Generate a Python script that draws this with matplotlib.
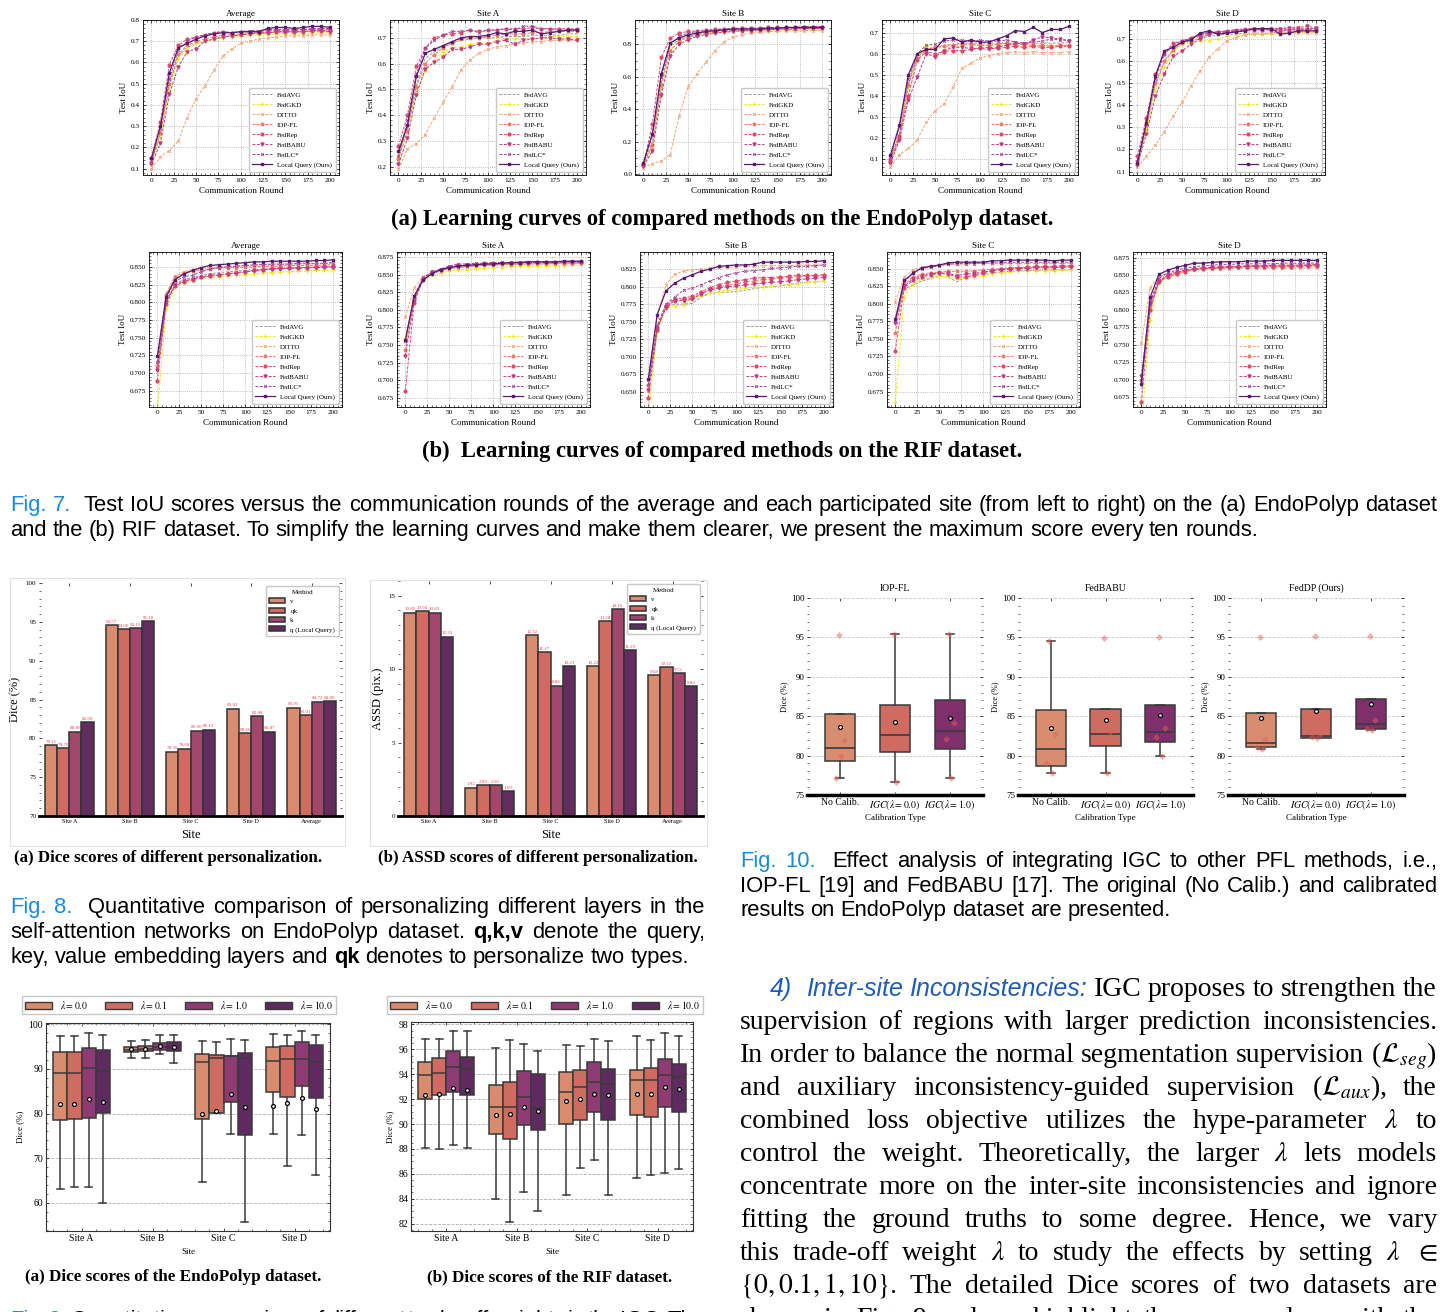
import numpy as np
import matplotlib
matplotlib.use('Agg')
import matplotlib.pyplot as plt
from matplotlib.patches import Patch, Rectangle
from matplotlib.ticker import MultipleLocator

plt.rcParams['font.family'] = ['Liberation Serif', 'DejaVu Serif']
plt.rcParams['mathtext.fontset'] = 'stix'

W, H = 1445, 1312

# ---------------- Fig. 7 learning curves ----------------
methods = ['FedAVG', 'FedGKD', 'DITTO', 'IOP-FL', 'FedRep', 'FedBABU', 'FedLC*', 'Local Query (Ours)']
rounds = list(range(0, 201, 10))

# each: FedAVG, FedGKD, DITTO, IOP-FL, FedRep, FedBABU, FedLC*, Local Query
endo_average = [
    [0.13, 0.26, 0.49, 0.63, 0.67, 0.69, 0.70, 0.71, 0.72, 0.725, 0.73, 0.735, 0.735, 0.74, 0.74, 0.74, 0.74, 0.745, 0.745, 0.745, 0.745],
    [0.12, 0.25, 0.47, 0.62, 0.665, 0.69, 0.70, 0.71, 0.715, 0.72, 0.725, 0.73, 0.73, 0.735, 0.735, 0.735, 0.735, 0.735, 0.74, 0.74, 0.74],
    [0.10, 0.155, 0.185, 0.23, 0.34, 0.43, 0.49, 0.565, 0.63, 0.665, 0.69, 0.70, 0.71, 0.715, 0.72, 0.725, 0.725, 0.725, 0.73, 0.73, 0.73],
    [0.13, 0.27, 0.50, 0.64, 0.68, 0.70, 0.71, 0.72, 0.73, 0.73, 0.735, 0.74, 0.74, 0.74, 0.745, 0.745, 0.745, 0.745, 0.75, 0.75, 0.75],
    [0.15, 0.32, 0.59, 0.68, 0.71, 0.72, 0.73, 0.74, 0.745, 0.74, 0.745, 0.745, 0.745, 0.75, 0.75, 0.75, 0.75, 0.755, 0.755, 0.755, 0.755],
    [0.12, 0.22, 0.45, 0.58, 0.65, 0.665, 0.70, 0.71, 0.72, 0.725, 0.73, 0.735, 0.74, 0.74, 0.745, 0.745, 0.745, 0.745, 0.75, 0.75, 0.745],
    [0.14, 0.29, 0.52, 0.66, 0.70, 0.72, 0.73, 0.74, 0.745, 0.74, 0.745, 0.75, 0.75, 0.755, 0.755, 0.755, 0.755, 0.755, 0.76, 0.76, 0.76],
    [0.15, 0.30, 0.55, 0.67, 0.69, 0.71, 0.725, 0.735, 0.74, 0.74, 0.745, 0.745, 0.745, 0.76, 0.765, 0.765, 0.76, 0.765, 0.77, 0.77, 0.765],
]
endo_site_a = [
    [0.25, 0.35, 0.52, 0.62, 0.645, 0.665, 0.68, 0.69, 0.695, 0.70, 0.70, 0.70, 0.705, 0.705, 0.705, 0.71, 0.71, 0.71, 0.71, 0.715, 0.715],
    [0.24, 0.34, 0.49, 0.57, 0.61, 0.645, 0.66, 0.665, 0.675, 0.68, 0.68, 0.69, 0.695, 0.695, 0.695, 0.695, 0.70, 0.705, 0.705, 0.705, 0.705],
    [0.19, 0.27, 0.29, 0.325, 0.39, 0.45, 0.51, 0.575, 0.615, 0.64, 0.655, 0.665, 0.67, 0.675, 0.68, 0.685, 0.685, 0.69, 0.69, 0.69, 0.69],
    [0.23, 0.34, 0.51, 0.60, 0.635, 0.66, 0.68, 0.695, 0.70, 0.70, 0.705, 0.71, 0.715, 0.715, 0.715, 0.72, 0.72, 0.725, 0.725, 0.725, 0.725],
    [0.28, 0.40, 0.59, 0.66, 0.70, 0.71, 0.715, 0.72, 0.73, 0.725, 0.73, 0.73, 0.735, 0.735, 0.735, 0.74, 0.735, 0.735, 0.735, 0.735, 0.735],
    [0.21, 0.31, 0.48, 0.58, 0.605, 0.625, 0.655, 0.655, 0.665, 0.675, 0.675, 0.685, 0.69, 0.675, 0.69, 0.695, 0.70, 0.70, 0.695, 0.695, 0.69],
    [0.24, 0.38, 0.56, 0.66, 0.69, 0.71, 0.725, 0.725, 0.73, 0.72, 0.73, 0.73, 0.735, 0.73, 0.745, 0.745, 0.735, 0.735, 0.73, 0.73, 0.73],
    [0.26, 0.36, 0.55, 0.64, 0.655, 0.67, 0.685, 0.70, 0.705, 0.705, 0.71, 0.72, 0.715, 0.725, 0.725, 0.73, 0.715, 0.72, 0.725, 0.73, 0.73],
]
endo_site_b = [
    [0.06, 0.20, 0.57, 0.79, 0.83, 0.85, 0.865, 0.875, 0.88, 0.885, 0.885, 0.89, 0.89, 0.895, 0.895, 0.895, 0.90, 0.90, 0.90, 0.90, 0.90],
    [0.05, 0.16, 0.53, 0.77, 0.82, 0.845, 0.855, 0.865, 0.87, 0.875, 0.88, 0.88, 0.885, 0.885, 0.885, 0.89, 0.89, 0.89, 0.89, 0.895, 0.895],
    [0.04, 0.065, 0.08, 0.12, 0.36, 0.54, 0.62, 0.69, 0.76, 0.815, 0.845, 0.86, 0.87, 0.875, 0.88, 0.88, 0.885, 0.885, 0.885, 0.885, 0.885],
    [0.05, 0.18, 0.55, 0.76, 0.82, 0.845, 0.86, 0.87, 0.875, 0.88, 0.885, 0.885, 0.89, 0.89, 0.895, 0.895, 0.895, 0.90, 0.90, 0.90, 0.90],
    [0.06, 0.31, 0.72, 0.84, 0.87, 0.88, 0.885, 0.89, 0.895, 0.895, 0.90, 0.90, 0.90, 0.90, 0.905, 0.905, 0.905, 0.905, 0.91, 0.91, 0.91],
    [0.05, 0.14, 0.49, 0.73, 0.80, 0.83, 0.85, 0.86, 0.87, 0.875, 0.88, 0.885, 0.885, 0.89, 0.89, 0.895, 0.895, 0.895, 0.90, 0.90, 0.90],
    [0.06, 0.24, 0.60, 0.80, 0.85, 0.87, 0.88, 0.885, 0.89, 0.895, 0.895, 0.90, 0.90, 0.90, 0.905, 0.905, 0.905, 0.905, 0.91, 0.91, 0.91],
    [0.07, 0.25, 0.62, 0.81, 0.84, 0.86, 0.87, 0.88, 0.885, 0.89, 0.895, 0.895, 0.895, 0.895, 0.90, 0.90, 0.905, 0.905, 0.905, 0.905, 0.905],
]
endo_site_c = [
    [0.10, 0.22, 0.46, 0.59, 0.62, 0.63, 0.64, 0.645, 0.65, 0.65, 0.65, 0.65, 0.65, 0.65, 0.65, 0.65, 0.65, 0.65, 0.65, 0.65, 0.655],
    [0.09, 0.21, 0.44, 0.58, 0.64, 0.625, 0.63, 0.63, 0.635, 0.64, 0.64, 0.64, 0.64, 0.64, 0.64, 0.64, 0.64, 0.64, 0.64, 0.64, 0.64],
    [0.06, 0.12, 0.15, 0.19, 0.275, 0.33, 0.36, 0.44, 0.53, 0.555, 0.58, 0.59, 0.60, 0.605, 0.61, 0.605, 0.61, 0.605, 0.605, 0.605, 0.61],
    [0.09, 0.20, 0.45, 0.58, 0.62, 0.63, 0.635, 0.64, 0.645, 0.645, 0.64, 0.64, 0.645, 0.65, 0.64, 0.645, 0.64, 0.64, 0.635, 0.64, 0.64],
    [0.10, 0.21, 0.40, 0.57, 0.61, 0.60, 0.61, 0.615, 0.615, 0.62, 0.625, 0.63, 0.625, 0.63, 0.635, 0.63, 0.635, 0.63, 0.63, 0.635, 0.635],
    [0.08, 0.19, 0.38, 0.49, 0.60, 0.585, 0.615, 0.63, 0.63, 0.625, 0.625, 0.62, 0.63, 0.64, 0.65, 0.645, 0.665, 0.68, 0.675, 0.67, 0.66],
    [0.11, 0.25, 0.48, 0.60, 0.64, 0.645, 0.66, 0.665, 0.665, 0.655, 0.665, 0.66, 0.66, 0.665, 0.655, 0.65, 0.655, 0.66, 0.67, 0.665, 0.665],
    [0.12, 0.26, 0.50, 0.60, 0.62, 0.62, 0.67, 0.675, 0.655, 0.665, 0.655, 0.655, 0.67, 0.685, 0.71, 0.705, 0.725, 0.70, 0.715, 0.715, 0.73],
]
endo_site_d = [
    [0.14, 0.30, 0.49, 0.59, 0.65, 0.68, 0.69, 0.70, 0.71, 0.715, 0.72, 0.72, 0.725, 0.725, 0.725, 0.725, 0.73, 0.73, 0.73, 0.73, 0.73],
    [0.13, 0.29, 0.47, 0.57, 0.64, 0.675, 0.685, 0.69, 0.69, 0.70, 0.71, 0.715, 0.72, 0.72, 0.72, 0.72, 0.725, 0.725, 0.73, 0.73, 0.73],
    [0.12, 0.17, 0.22, 0.28, 0.35, 0.415, 0.485, 0.555, 0.615, 0.655, 0.69, 0.705, 0.715, 0.72, 0.72, 0.725, 0.725, 0.725, 0.725, 0.725, 0.725],
    [0.15, 0.31, 0.50, 0.60, 0.65, 0.68, 0.70, 0.71, 0.72, 0.73, 0.735, 0.74, 0.745, 0.745, 0.745, 0.745, 0.745, 0.745, 0.745, 0.745, 0.745],
    [0.17, 0.34, 0.54, 0.63, 0.68, 0.69, 0.705, 0.715, 0.725, 0.73, 0.73, 0.735, 0.74, 0.74, 0.74, 0.74, 0.735, 0.74, 0.74, 0.74, 0.74],
    [0.13, 0.27, 0.44, 0.54, 0.62, 0.645, 0.675, 0.70, 0.72, 0.725, 0.73, 0.735, 0.74, 0.745, 0.745, 0.745, 0.745, 0.75, 0.75, 0.755, 0.75],
    [0.15, 0.33, 0.52, 0.63, 0.67, 0.69, 0.70, 0.72, 0.73, 0.73, 0.735, 0.74, 0.74, 0.74, 0.74, 0.74, 0.74, 0.74, 0.74, 0.745, 0.745],
    [0.14, 0.32, 0.53, 0.645, 0.66, 0.685, 0.695, 0.725, 0.735, 0.72, 0.725, 0.73, 0.735, 0.745, 0.745, 0.745, 0.72, 0.725, 0.735, 0.735, 0.735],
]
rif_average = [
    [0.70, 0.80, 0.826, 0.832, 0.835, 0.838, 0.840, 0.842, 0.843, 0.844, 0.845, 0.846, 0.847, 0.847, 0.848, 0.848, 0.849, 0.849, 0.849, 0.850, 0.850],
    [0.645, 0.79, 0.822, 0.828, 0.831, 0.834, 0.835, 0.836, 0.837, 0.838, 0.839, 0.840, 0.841, 0.842, 0.843, 0.843, 0.844, 0.844, 0.845, 0.845, 0.846],
    [0.715, 0.813, 0.837, 0.843, 0.846, 0.848, 0.849, 0.850, 0.851, 0.851, 0.852, 0.852, 0.853, 0.853, 0.853, 0.854, 0.854, 0.854, 0.854, 0.855, 0.855],
    [0.71, 0.81, 0.835, 0.841, 0.844, 0.846, 0.847, 0.848, 0.849, 0.849, 0.850, 0.850, 0.851, 0.851, 0.851, 0.852, 0.852, 0.852, 0.852, 0.853, 0.853],
    [0.689, 0.798, 0.823, 0.829, 0.832, 0.835, 0.837, 0.838, 0.840, 0.841, 0.843, 0.845, 0.846, 0.847, 0.848, 0.848, 0.849, 0.849, 0.850, 0.850, 0.850],
    [0.704, 0.800, 0.824, 0.830, 0.833, 0.836, 0.838, 0.839, 0.840, 0.842, 0.843, 0.844, 0.846, 0.847, 0.847, 0.848, 0.848, 0.849, 0.849, 0.850, 0.850],
    [0.715, 0.805, 0.830, 0.836, 0.838, 0.843, 0.847, 0.849, 0.850, 0.851, 0.852, 0.853, 0.853, 0.854, 0.854, 0.854, 0.855, 0.855, 0.855, 0.855, 0.856],
    [0.724, 0.808, 0.832, 0.840, 0.845, 0.849, 0.852, 0.853, 0.854, 0.855, 0.856, 0.857, 0.857, 0.858, 0.858, 0.858, 0.858, 0.858, 0.859, 0.859, 0.860],
]
rif_site_a = [
    [0.757, 0.818, 0.843, 0.851, 0.855, 0.858, 0.860, 0.861, 0.862, 0.863, 0.863, 0.864, 0.864, 0.865, 0.865, 0.865, 0.865, 0.866, 0.866, 0.866, 0.866],
    [0.76, 0.815, 0.842, 0.849, 0.852, 0.855, 0.856, 0.857, 0.858, 0.859, 0.860, 0.860, 0.861, 0.862, 0.862, 0.862, 0.862, 0.862, 0.862, 0.863, 0.863],
    [0.79, 0.831, 0.847, 0.853, 0.856, 0.858, 0.860, 0.861, 0.862, 0.863, 0.863, 0.864, 0.864, 0.864, 0.865, 0.865, 0.865, 0.865, 0.865, 0.865, 0.866],
    [0.743, 0.815, 0.845, 0.853, 0.856, 0.859, 0.861, 0.862, 0.863, 0.864, 0.864, 0.865, 0.865, 0.866, 0.866, 0.866, 0.866, 0.866, 0.867, 0.867, 0.867],
    [0.685, 0.81, 0.845, 0.853, 0.857, 0.861, 0.863, 0.864, 0.865, 0.866, 0.866, 0.866, 0.867, 0.867, 0.867, 0.868, 0.868, 0.868, 0.868, 0.868, 0.868],
    [0.735, 0.812, 0.842, 0.853, 0.857, 0.860, 0.862, 0.863, 0.864, 0.865, 0.865, 0.866, 0.866, 0.867, 0.867, 0.867, 0.867, 0.867, 0.868, 0.868, 0.868],
    [0.755, 0.82, 0.845, 0.853, 0.858, 0.862, 0.865, 0.865, 0.866, 0.866, 0.867, 0.867, 0.867, 0.868, 0.868, 0.868, 0.868, 0.868, 0.868, 0.868, 0.868],
    [0.757, 0.819, 0.842, 0.851, 0.857, 0.860, 0.862, 0.863, 0.864, 0.865, 0.865, 0.866, 0.867, 0.867, 0.868, 0.868, 0.868, 0.868, 0.869, 0.869, 0.869],
]
rif_site_b = [
    [0.658, 0.74, 0.77, 0.775, 0.775, 0.776, 0.785, 0.790, 0.792, 0.792, 0.793, 0.795, 0.797, 0.799, 0.800, 0.801, 0.803, 0.805, 0.806, 0.807, 0.808],
    [0.62, 0.735, 0.770, 0.772, 0.774, 0.782, 0.787, 0.791, 0.793, 0.795, 0.796, 0.798, 0.799, 0.800, 0.801, 0.802, 0.803, 0.804, 0.806, 0.807, 0.808],
    [0.667, 0.757, 0.803, 0.818, 0.822, 0.824, 0.825, 0.826, 0.827, 0.828, 0.828, 0.829, 0.829, 0.830, 0.830, 0.830, 0.830, 0.831, 0.831, 0.831, 0.831],
    [0.66, 0.742, 0.772, 0.780, 0.782, 0.784, 0.790, 0.796, 0.800, 0.802, 0.804, 0.806, 0.808, 0.810, 0.811, 0.812, 0.813, 0.814, 0.815, 0.815, 0.816],
    [0.641, 0.738, 0.773, 0.782, 0.784, 0.786, 0.793, 0.798, 0.803, 0.806, 0.808, 0.810, 0.812, 0.813, 0.813, 0.814, 0.815, 0.816, 0.816, 0.816, 0.817],
    [0.652, 0.740, 0.770, 0.780, 0.780, 0.782, 0.790, 0.795, 0.798, 0.800, 0.801, 0.802, 0.804, 0.805, 0.806, 0.807, 0.808, 0.810, 0.811, 0.812, 0.813],
    [0.66, 0.745, 0.775, 0.785, 0.795, 0.798, 0.803, 0.808, 0.813, 0.817, 0.820, 0.822, 0.823, 0.824, 0.826, 0.827, 0.828, 0.829, 0.829, 0.830, 0.831],
    [0.668, 0.760, 0.794, 0.805, 0.812, 0.817, 0.822, 0.825, 0.829, 0.830, 0.831, 0.831, 0.832, 0.835, 0.835, 0.835, 0.835, 0.835, 0.836, 0.836, 0.837],
]
rif_site_c = [
    [0.77, 0.82, 0.827, 0.832, 0.836, 0.839, 0.838, 0.831, 0.838, 0.840, 0.842, 0.844, 0.845, 0.846, 0.847, 0.847, 0.847, 0.848, 0.848, 0.848, 0.848],
    [0.66, 0.81, 0.828, 0.835, 0.838, 0.840, 0.838, 0.836, 0.836, 0.838, 0.840, 0.842, 0.844, 0.845, 0.846, 0.846, 0.847, 0.847, 0.847, 0.848, 0.848],
    [0.803, 0.838, 0.848, 0.852, 0.854, 0.855, 0.856, 0.856, 0.856, 0.857, 0.857, 0.857, 0.857, 0.857, 0.857, 0.857, 0.857, 0.857, 0.857, 0.857, 0.857],
    [0.758, 0.827, 0.838, 0.842, 0.844, 0.845, 0.846, 0.846, 0.846, 0.847, 0.848, 0.849, 0.850, 0.851, 0.851, 0.851, 0.852, 0.852, 0.852, 0.852, 0.853],
    [0.733, 0.822, 0.833, 0.838, 0.841, 0.843, 0.842, 0.838, 0.838, 0.841, 0.844, 0.847, 0.849, 0.850, 0.851, 0.852, 0.853, 0.853, 0.853, 0.854, 0.854],
    [0.773, 0.825, 0.835, 0.840, 0.842, 0.844, 0.843, 0.840, 0.842, 0.843, 0.845, 0.847, 0.848, 0.849, 0.850, 0.850, 0.851, 0.851, 0.851, 0.852, 0.852],
    [0.776, 0.83, 0.845, 0.850, 0.852, 0.854, 0.856, 0.857, 0.857, 0.857, 0.858, 0.858, 0.858, 0.859, 0.859, 0.859, 0.859, 0.859, 0.859, 0.859, 0.859],
    [0.778, 0.833, 0.843, 0.851, 0.853, 0.855, 0.858, 0.859, 0.859, 0.859, 0.859, 0.861, 0.861, 0.862, 0.862, 0.862, 0.862, 0.862, 0.861, 0.862, 0.862],
]
rif_site_d = [
    [0.69, 0.80, 0.84, 0.848, 0.853, 0.856, 0.858, 0.859, 0.860, 0.861, 0.862, 0.862, 0.863, 0.863, 0.863, 0.864, 0.864, 0.864, 0.864, 0.865, 0.865],
    [0.63, 0.785, 0.838, 0.847, 0.852, 0.855, 0.857, 0.858, 0.859, 0.860, 0.861, 0.861, 0.862, 0.862, 0.863, 0.863, 0.863, 0.863, 0.864, 0.864, 0.864],
    [0.752, 0.832, 0.848, 0.852, 0.854, 0.856, 0.857, 0.858, 0.859, 0.859, 0.859, 0.860, 0.860, 0.860, 0.860, 0.860, 0.860, 0.860, 0.860, 0.860, 0.860],
    [0.70, 0.805, 0.843, 0.849, 0.853, 0.857, 0.859, 0.860, 0.861, 0.862, 0.862, 0.862, 0.863, 0.863, 0.863, 0.863, 0.863, 0.863, 0.863, 0.864, 0.864],
    [0.668, 0.80, 0.842, 0.847, 0.851, 0.855, 0.858, 0.859, 0.860, 0.860, 0.861, 0.861, 0.862, 0.862, 0.862, 0.862, 0.862, 0.862, 0.863, 0.863, 0.863],
    [0.705, 0.81, 0.84, 0.850, 0.854, 0.857, 0.859, 0.860, 0.861, 0.861, 0.862, 0.862, 0.863, 0.863, 0.863, 0.864, 0.864, 0.864, 0.864, 0.864, 0.865],
    [0.70, 0.81, 0.846, 0.853, 0.857, 0.860, 0.862, 0.863, 0.864, 0.865, 0.865, 0.866, 0.866, 0.866, 0.866, 0.866, 0.867, 0.867, 0.867, 0.867, 0.867],
    [0.694, 0.818, 0.851, 0.857, 0.861, 0.864, 0.867, 0.867, 0.868, 0.869, 0.869, 0.869, 0.870, 0.870, 0.870, 0.871, 0.871, 0.871, 0.871, 0.871, 0.871],
]

# ---------------- Fig. 8 personalization bars ----------------
bar_sites = ['Site A', 'Site B', 'Site C', 'Site D', 'Average']
bar_methods = ['v', 'qk', 'k', 'q (Local Query)']
dice_v = [79.11, 94.57, 78.30, 83.82, 83.95]
dice_qk = [78.70, 94.06, 78.68, 80.66, 83.01]
dice_k = [80.85, 94.15, 81.00, 82.88, 84.72]
dice_q = [82.09, 95.10, 81.13, 80.87, 84.80]
assd_v = [13.85, 1.92, 12.32, 10.22, 9.58]
assd_qk = [13.94, 2.09, 11.17, 13.28, 10.12]
assd_k = [13.83, 2.10, 8.86, 14.10, 9.72]
assd_q = [12.22, 1.69, 10.21, 11.29, 8.85]

# ---------------- Fig. 10 calibration (per-site Dice, Sites A-D) ----------------
calib_types = ['No Calib.', r'$IGC(\lambda=0.0)$', r'$IGC(\lambda=1.0)$']
iopfl_calib = [[77.2, 95.3, 80.0, 82.0], [81.8, 95.4, 76.6, 83.5], [82.1, 95.4, 77.2, 84.2]]
fedbabu_calib = [[79.0, 94.6, 77.8, 82.8], [82.4, 94.9, 77.8, 83.0], [82.4, 95.0, 79.9, 83.5]]
feddp_calib = [[81.1, 95.1, 80.9, 82.1], [82.3, 95.2, 82.2, 82.8], [83.4, 95.2, 83.3, 84.5]]

# ---------------- Fig. 9 lambda boxplots: (whislo, q1, med, q3, whishi, mean) ----------------
box_sites = ['Site A', 'Site B', 'Site C', 'Site D']
lambdas = [r'$\lambda = 0.0$', r'$\lambda = 0.1$', r'$\lambda = 1.0$', r'$\lambda = 10.0$']
endo_box = [
    [(63.0, 78.5, 89.1, 93.8, 97.3, 82.2), (63.5, 78.9, 89.1, 93.9, 97.4, 82.1), (63.6, 79.0, 90.3, 94.6, 98.1, 83.2), (60.0, 80.1, 89.5, 94.2, 97.6, 82.7)],
    [(92.4, 93.8, 94.3, 95.0, 96.3, 94.5), (92.5, 94.0, 94.5, 95.2, 96.5, 94.5), (93.3, 94.3, 95.0, 95.8, 97.6, 95.1), (91.3, 94.0, 95.0, 96.0, 97.6, 94.9)],
    [(64.6, 78.8, 91.6, 93.3, 96.3, 80.0), (80.1, 80.1, 92.5, 93.1, 96.1, 80.5), (75.4, 82.6, 92.8, 92.9, 96.7, 84.5), (55.7, 75.2, 92.5, 93.5, 96.6, 81.5)],
    [(75.4, 84.8, 91.8, 95.0, 97.9, 81.6), (68.3, 83.7, 92.3, 95.2, 97.5, 82.3), (75.1, 86.1, 92.2, 96.0, 98.5, 83.4), (66.3, 83.5, 91.6, 95.4, 97.7, 81.1)],
]
rif_box = [
    [(88.1, 92.0, 93.9, 95.0, 96.8, 92.35), (88.0, 92.3, 94.1, 95.3, 96.8, 92.45), (88.35, 92.6, 94.55, 95.9, 97.5, 92.9), (88.1, 92.3, 94.4, 95.4, 97.45, 92.75)],
    [(84.0, 89.2, 91.35, 93.1, 96.1, 90.7), (82.1, 88.8, 91.35, 93.35, 96.75, 90.8), (84.5, 89.9, 92.2, 94.25, 96.4, 91.4), (83.0, 89.55, 91.3, 94.0, 95.9, 91.05)],
    [(84.3, 90.0, 92.6, 94.15, 96.35, 91.85), (86.5, 90.3, 92.95, 94.35, 96.3, 92.0), (87.1, 90.95, 93.4, 94.95, 96.85, 92.45), (84.3, 90.3, 93.25, 94.45, 96.7, 92.3)],
    [(85.7, 90.7, 93.55, 94.35, 97.05, 92.4), (85.9, 90.6, 93.5, 94.5, 96.75, 92.45), (86.05, 91.35, 93.9, 95.2, 97.3, 93.0), (86.4, 91.0, 93.8, 94.85, 97.05, 92.8)],
]

# ---------------- styles ----------------
line_styles = [
    dict(color='#9c9c9c', ls=(0, (3, 1.5)), lw=0.7),
    dict(color='#f0e81c', ls=(0, (3, 1.5)), lw=0.7, marker='+', ms=3.5, mew=0.8),
    dict(color='#f6a274', ls=(0, (3, 1.5)), lw=0.7, marker='x', ms=2, mew=0.6),
    dict(color='#f2786a', ls=(0, (3, 1.5)), lw=0.7, marker='*', ms=2.6),
    dict(color='#e2476b', ls=(0, (3, 1.5)), lw=0.7, marker='o', ms=2),
    dict(color='#c53d80', ls=(0, (3, 1.5)), lw=0.7, marker='v', ms=2.2),
    dict(color='#a2459a', ls=(0, (3, 1.5)), lw=0.7, marker='x', ms=2, mew=0.6),
    dict(color='#5a1a6e', ls='-', lw=0.9, marker='s', ms=2),
]
bar_colors = ['#d98d70', '#d06b62', '#a2466b', '#622d5e']
calib_colors = ['#d98d70', '#d06b62', '#7e2f6c']
lam_colors = ['#d98b6e', '#cf6b60', '#8d3b72', '#5f2a5f']
SANS = ['Liberation Sans', 'DejaVu Sans']
BLUE = '#1a8bd6'

fig = plt.figure(figsize=(W / 100, H / 100), dpi=100)


def add_ax(l, t, r, b):
    return fig.add_axes([l / W, 1 - b / H, (r - l) / W, (b - t) / H])


def sci_ticks(ax, size):
    ax.minorticks_on()
    ax.tick_params(which='both', direction='in', top=True, right=True, labelsize=size, pad=2)
    ax.tick_params(which='major', length=2.5, width=0.5)
    ax.tick_params(which='minor', length=1.2, width=0.4)


def learning_curve(box, title, series, ylim, ystep):
    ax = add_ax(*box)
    for name, vals, st in zip(methods, series, line_styles):
        ax.plot(rounds, vals, label=name, **st)
    ax.set_xlim(-9.5, 210)
    ax.set_ylim(*ylim)
    ax.xaxis.set_major_locator(MultipleLocator(25))
    ax.yaxis.set_major_locator(MultipleLocator(ystep))
    sci_ticks(ax, 5.2)
    ax.grid(True, which='major', ls=':', color='#a8a8a8', lw=0.6)
    for s in ax.spines.values():
        s.set_linewidth(0.6)
    ax.set_title(title, fontsize=6.5, pad=3)
    ax.set_xlabel('Communication Round', fontsize=6.5, labelpad=3)
    ax.set_ylabel('Test IoU', fontsize=6.5, labelpad=2)
    ax.legend(loc='lower right', fontsize=5, handlelength=2.8, labelspacing=0.6,
              borderpad=0.5, edgecolor='#c8c8c8', framealpha=1)


lefts = [143, 390, 635, 882, 1129]
row_a = [('Average', endo_average, (0.07, 0.80), 0.1), ('Site A', endo_site_a, (0.168, 0.769), 0.1),
         ('Site B', endo_site_b, (-0.006, 0.951), 0.2), ('Site C', endo_site_c, (0.024, 0.76), 0.1),
         ('Site D', endo_site_d, (0.085, 0.784), 0.1)]
row_b = [('Average', rif_average, (0.652, 0.871), 0.025), ('Site A', rif_site_a, (0.662, 0.882), 0.025),
         ('Site B', rif_site_b, (0.628, 0.8495), 0.025), ('Site C', rif_site_c, (0.653, 0.8735), 0.025),
         ('Site D', rif_site_d, (0.661, 0.883), 0.025)]
for l, (t, d, yl, st) in zip(lefts, row_a):
    learning_curve((l, 20, l + 196, 175), t, d, yl, st)
for l, (t, d, yl, st) in zip([149, 397, 640, 887, 1133], row_b):
    learning_curve((l, 252, l + 193, 407), t, d, yl, st)

fig.text(722 / W, 1 - 219 / H, '(a) Learning curves of compared methods on the EndoPolyp dataset.',
         ha='center', va='center', fontsize=16.3, weight='bold')
fig.text(722 / W, 1 - 451 / H, '(b)  Learning curves of compared methods on the RIF dataset.',
         ha='center', va='center', fontsize=16.3, weight='bold')


# ---------------- Fig. 8 ----------------
def bar_panel(box, series, ylim, ylabel, ystep):
    ax = add_ax(*box)
    x = np.arange(len(bar_sites))
    for i, (vals, c, name) in enumerate(zip(series, bar_colors, bar_methods)):
        bars = ax.bar(x + (i - 1.5) * 0.2, vals, 0.2, color=c, edgecolor='#333333', linewidth=1.1, label=name)
        ax.bar_label(bars, fmt='%.2f', fontsize=3.6, color='#e8414e', padding=1)
    ax.set_xlim(-0.5, 4.5)
    ax.set_ylim(*ylim)
    ax.set_xticks(x, bar_sites)
    ax.yaxis.set_major_locator(MultipleLocator(ystep))
    sci_ticks(ax, 5)
    ax.tick_params(axis='x', which='minor', bottom=False, top=False)
    ax.tick_params(axis='x', labelsize=4.5)
    for k in ['top', 'right', 'left']:
        ax.spines[k].set_visible(False)
    ax.spines['bottom'].set_linewidth(2)
    ax.set_ylabel(ylabel, fontsize=9, labelpad=3)
    ax.set_xlabel('Site', fontsize=9, labelpad=4)
    ax.legend(title='Method', loc='upper right', fontsize=5, title_fontsize=5,
              edgecolor='#c8c8c8', framealpha=1, handlelength=2.2, borderpad=0.5)
    return ax


fig.add_artist(Rectangle((10 / W, 1 - 846 / H), 335 / W, 268 / H, transform=fig.transFigure,
                         fill=False, edgecolor='#e2e2e2', lw=0.8))
fig.add_artist(Rectangle((370 / W, 1 - 846 / H), 337 / W, 266 / H, transform=fig.transFigure,
                         fill=False, edgecolor='#e2e2e2', lw=0.8))
bar_panel((39, 583, 342, 816), [dice_v, dice_qk, dice_k, dice_q], (70, 100), 'Dice (%)', 5)
bar_panel((398, 581, 703, 816), [assd_v, assd_qk, assd_k, assd_q], (0, 16), 'ASSD (pix.)', 5)
fig.text(168 / W, 1 - 858 / H, '(a) Dice scores of different personalization.', ha='center', va='center',
         fontsize=12.2, weight='bold')
fig.text(538 / W, 1 - 858 / H, '(b) ASSD scores of different personalization.', ha='center', va='center',
         fontsize=12.2, weight='bold')


# ---------------- Fig. 10 ----------------
def calib_panel(box, title, groups):
    ax = add_ax(*box)
    pos = np.arange(len(groups))
    bp = ax.boxplot(groups, positions=pos, widths=0.55, patch_artist=True, showfliers=False,
                    showmeans=True, capwidths=0.15,
                    meanprops=dict(marker='o', markerfacecolor='white', markeredgecolor='black',
                                   markersize=2.8, markeredgewidth=0.9),
                    medianprops=dict(color='#3a3a3a', lw=1.2),
                    whiskerprops=dict(color='#3a3a3a', lw=1.1),
                    capprops=dict(color='#3a3a3a', lw=1.1),
                    boxprops=dict(edgecolor='#3a3a3a', lw=1.1))
    for patch, c in zip(bp['boxes'], calib_colors):
        patch.set_facecolor(c)
    offsets = np.linspace(-0.08, 0.08, 4)
    for p, g in zip(pos, groups):
        ax.scatter(p + offsets, g, marker='D', s=12, color='#e0605a', alpha=0.5, lw=0, zorder=4)
    ax.set_xlim(-0.6, 2.6)
    ax.set_ylim(75, 100)
    ax.set_xticks(pos, calib_types)
    ax.yaxis.set_major_locator(MultipleLocator(5))
    sci_ticks(ax, 6.5)
    ax.tick_params(axis='x', which='minor', bottom=False, top=False)
    ax.tick_params(axis='x', labelsize=7)
    ax.grid(True, axis='y', which='major', ls='--', color='#c8c8c8', lw=0.6)
    for k in ['top', 'right', 'left']:
        ax.spines[k].set_visible(False)
    ax.spines['bottom'].set_linewidth(2.5)
    ax.set_title(title, fontsize=7, pad=5)
    ax.set_ylabel('Dice (%)', fontsize=6, labelpad=2)
    ax.set_xlabel('Calibration Type', fontsize=6.5, labelpad=2)


calib_panel((807, 598, 983, 795), 'IOP-FL', iopfl_calib)
calib_panel((1018, 598, 1193, 795), 'FedBABU', fedbabu_calib)
calib_panel((1228, 598, 1404, 795), 'FedDP (Ours)', feddp_calib)


# ---------------- Fig. 9 ----------------
def lambda_panel(box, legbox, data, ylim, ystep):
    ax = add_ax(*box)
    for j in range(4):
        stats = [dict(whislo=data[i][j][0], q1=data[i][j][1], med=data[i][j][2], q3=data[i][j][3],
                      whishi=data[i][j][4], mean=data[i][j][5], fliers=[]) for i in range(4)]
        pos = np.arange(4) + (j - 1.5) * 0.2
        bp = ax.bxp(stats, positions=pos, widths=0.2, patch_artist=True, showmeans=True, showfliers=False,
                    capwidths=0.1,
                    meanprops=dict(marker='o', markerfacecolor='white', markeredgecolor='black',
                                   markersize=2.8, markeredgewidth=0.9),
                    medianprops=dict(color='#3a3a3a', lw=1.1),
                    whiskerprops=dict(color='#3a3a3a', lw=1.1),
                    capprops=dict(color='#3a3a3a', lw=1.1),
                    boxprops=dict(edgecolor='#3a3a3a', lw=1.1))
        for patch in bp['boxes']:
            patch.set_facecolor(lam_colors[j])
    ax.set_xlim(-0.5, 3.5)
    ax.set_ylim(*ylim)
    ax.set_xticks(np.arange(4), box_sites)
    ax.yaxis.set_major_locator(MultipleLocator(ystep))
    sci_ticks(ax, 7)
    ax.grid(True, axis='y', which='major', ls='--', color='#b0b0b0', lw=0.6)
    for s in ax.spines.values():
        s.set_linewidth(0.8)
        s.set_color('#333333')
    ax.set_ylabel('Dice (%)', fontsize=6.5, labelpad=3)
    ax.set_xlabel('Site', fontsize=6.5, labelpad=4)
    handles = [Patch(facecolor=c, edgecolor='#3a3a3a', lw=1.0) for c in lam_colors]
    l, t, r, b = legbox
    ax.legend(handles, lambdas, ncol=4, mode='expand', loc='center',
              bbox_to_anchor=(l / W, 1 - b / H, (r - l) / W, (b - t) / H), bbox_transform=fig.transFigure,
              fontsize=7, handlelength=2.8, edgecolor='#c8c8c8', framealpha=1, borderpad=0.3,
              borderaxespad=0, columnspacing=1.0, fancybox=False)


lambda_panel((46, 1023, 330, 1231), (22, 996, 336, 1014), endo_box, (53.7, 100.3), 10)
lambda_panel((411, 1022, 693, 1231), (387, 996, 703, 1014), rif_box, (81.4, 98.2), 2)
fig.text(173 / W, 1 - 1277 / H, '(a) Dice scores of the EndoPolyp dataset.', ha='center', va='center',
         fontsize=12.3, weight='bold')
fig.text(550 / W, 1 - 1277 / H, '(b) Dice scores of the RIF dataset.', ha='center', va='center',
         fontsize=12.3, weight='bold')

# ---------------- running text ----------------
renderer = fig.canvas.get_renderer()


def put_line(segments, x0, y, size, family, x1=None, space=0.27):
    objs = []
    for text, kw in segments:
        for w in text.split(' '):
            props = dict(fontsize=size, family=family, va='baseline', ha='left')
            props.update(kw)
            objs.append(fig.text(0, 1 - y / H, w, **props))
    widths = [t.get_window_extent(renderer).width if t.get_text() else 0 for t in objs]
    if x1 is None:
        gap = space * size * 100 / 72
    else:
        gap = (x1 - x0 - sum(widths)) / (len(objs) - 1)
    x = x0
    for t, w in zip(objs, widths):
        t.set_x(x / W)
        x += w + gap


N = {}
B = dict(weight='bold')
BL = dict(color=BLUE)
cap = 15.8
put_line([('Fig. 7.', BL), ('', {}), ('Test IoU scores versus the communication rounds of the average and each '
          'participated site (from left to right) on the (a) EndoPolyp dataset', N)], 10, 511, cap, SANS, 1437)
put_line([('and the (b) RIF dataset. To simplify the learning curves and make them clearer, we present the '
           'maximum score every ten rounds.', N)], 10, 536, cap, SANS)

put_line([('Fig. 8.', BL), ('', {}), ('Quantitative comparison of personalizing different layers in the', N)],
         10, 913, cap, SANS, 705)
put_line([('self-attention networks on EndoPolyp dataset.', N), ('q,k,v', B), ('denote the query,', N)],
         10, 938, cap, SANS, 705)
put_line([('key, value embedding layers and', N), ('qk', B), ('denotes to personalize two types.', N)],
         10, 963, cap, SANS)

put_line([('Fig. 10.', BL), ('', {}), ('Effect analysis of integrating IGC to other PFL methods, i.e.,', N)],
         740, 867, cap, SANS, 1437)
put_line([('IOP-FL [19] and FedBABU [17]. The original (No Calib.) and calibrated', N)], 740, 892, cap, SANS, 1437)
put_line([('results on EndoPolyp dataset are presented.', N)], 740, 916, cap, SANS)

put_line([('Fig. 9.', BL), ('', {}), ('Quantitative comparison of different trade-off weights in the IGC. The', N)],
         10, 1326, cap, SANS, 705)

HB = dict(color='#1f5cb8', style='italic', family=SANS, fontsize=18)
SER = ['Liberation Serif', 'DejaVu Serif']
para = [
    [('4)', HB), ('', HB), ('Inter-site Inconsistencies:', HB), ('IGC proposes to strengthen the', N)],
    [('supervision of regions with larger prediction inconsistencies.', N)],
    [(r'In order to balance the normal segmentation supervision ($\mathcal{L}_{seg}$)', N)],
    [(r'and auxiliary inconsistency-guided supervision ($\mathcal{L}_{aux}$), the', N)],
    [(r'combined loss objective utilizes the hype-parameter $\lambda$ to', N)],
    [(r'control the weight. Theoretically, the larger $\lambda$ lets models', N)],
    [('concentrate more on the inter-site inconsistencies and ignore', N)],
    [('fitting the ground truths to some degree. Hence, we vary', N)],
    [(r'this trade-off weight $\lambda$ to study the effects by setting $\lambda$ $\in$', N)],
    [(r'$\{0,0.1,1,10\}$. The detailed Dice scores of two datasets are', N)],
    [('shown in Fig. 9 and we highlight the mean values with the', N)],
]
for i, segs in enumerate(para):
    put_line(segs, 770 if i == 0 else 740, 996 + 33 * i, 20, SER, 1437)

fig.savefig('out.png', dpi=100)
